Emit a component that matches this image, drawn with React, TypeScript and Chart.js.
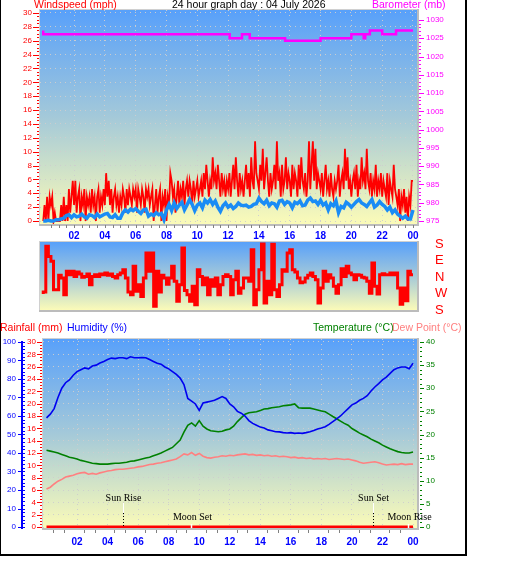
import React, { useEffect, useRef } from "react";
import { Chart, registerables } from "chart.js";

Chart.register(...registerables);

const FONT = "'Liberation Sans', Arial, sans-serif";
const GRID = "rgba(206,206,206,0.95)";

// ---- time axis (hours of the day) ----
const HOUR_TICKS = [2, 4, 6, 8, 10, 12, 14, 16, 18, 20, 22, 24];

// ---- wind speed (mph): 5-minute gusts, 10-minute average ----
const windGust = [
  0, 2.3, 0, 3.5, 0, 3.5, 2.3, 3.5, 0, 1.2, 0, 0,
  0, 0, 2.3, 0, 3.5, 0, 2.3, 0, 4.6, 1.2, 3.5, 5.8,
  2.3, 5.8, 1.2, 3.5, 4.6, 0, 3.5, 2.3, 4.6, 0, 3.5, 2.3,
  3.5, 1.2, 4.6, 2.3, 3.5, 0, 3.5, 4.6, 1.2, 3.5, 2.3, 4.6,
  2.3, 6.9, 3.5, 5.8, 2.3, 4.6, 1.2, 3.5, 4.6, 2.3, 3.5, 1.2,
  3.5, 2.3, 4.6, 3.5, 1.2, 4.6, 2.3, 4.6, 3.5, 2.3, 4.6, 3.5,
  4.6, 1.2, 4.6, 3.5, 2.3, 4.6, 3.5, 1.2, 4.6, 3.5, 4.6, 2.3,
  3.5, 4.6, 0, 2.3, 4.6, 1.2, 3.5, 4.6, 0, 3.5, 2.3, 4.6,
  0, 3.5, 2.3, 6.9, 5.8, 3.5, 4.6, 1.2, 3.5, 5.8, 2.3, 4.6,
  3.5, 5.8, 2.3, 4.6, 5.8, 3.5, 5.8, 4.6, 2.3, 5.8, 3.5, 4.6,
  5.8, 3.5, 4.6, 5.8, 3.5, 6.9, 4.6, 8.1, 5.8, 3.5, 5.8, 4.6,
  9.2, 5.8, 6.9, 4.6, 8.1, 5.8, 3.5, 6.9, 4.6, 5.8, 3.5, 5.8,
  4.6, 6.9, 3.5, 5.8, 8.1, 4.6, 9.2, 5.8, 3.5, 6.9, 4.6, 5.8,
  3.5, 5.8, 8.1, 4.6, 6.9, 3.5, 9.2, 5.8, 4.6, 11.5, 6.9, 5.8,
  4.6, 8.1, 5.8, 10.4, 4.6, 6.9, 9.2, 5.8, 3.5, 6.9, 4.6, 5.8,
  8.1, 4.6, 11.5, 5.8, 6.9, 3.5, 8.1, 4.6, 5.8, 9.2, 4.6, 6.9,
  5.8, 3.5, 8.1, 4.6, 6.9, 5.8, 3.5, 8.1, 4.6, 9.2, 5.8, 4.6,
  6.9, 3.5, 5.8, 11.5, 4.6, 8.1, 11.5, 5.8, 10.4, 4.6, 6.9, 5.8,
  4.6, 6.9, 3.5, 5.8, 8.1, 4.6, 5.8, 3.5, 6.9, 4.6, 3.5, 5.8,
  4.6, 5.8, 8.1, 3.5, 5.8, 6.9, 4.6, 10.4, 5.8, 9.2, 4.6, 5.8,
  3.5, 5.8, 6.9, 4.6, 8.1, 3.5, 5.8, 4.6, 9.2, 5.8, 6.9, 4.6,
  10.4, 5.8, 4.6, 6.9, 3.5, 5.8, 4.6, 8.1, 3.5, 5.8, 4.6, 6.9,
  3.5, 5.8, 4.6, 3.5, 6.9, 2.3, 5.8, 4.6, 3.5, 8.1, 4.6, 3.5,
  2.3, 4.6, 0, 3.5, 2.3, 4.6, 1.2, 3.5, 0, 3.5, 2.3, 5.8,
  5.8,
];

const windAverage = [
  0, 0, 0.1, 0, 0, 0.2,
  0.2, 0.3, 0.4, 0.8, 0.9, 0.5,
  0.9, 0.6, 0.7, 1.0, 0.6, 0.4,
  0.9, 0.8, 0.5, 1.0, 0.6, 0.8,
  1.0, 1.1, 0.6, 0.5, 0.9, 0.4,
  0.4, 1.2, 1.6, 1.3, 1.7, 1.5,
  1.8, 1.4, 1.1, 1.6, 1.7, 0.7,
  1.0, 0.8, 1.2, 0.9, 1.1, 0.2,
  1.6, 2.4, 1.5, 2.6, 1.8, 2.3,
  2.7, 1.6, 2.3, 3.1, 2.4, 1.5,
  2.3, 2.6, 1.9, 3.0, 2.6, 3.1,
  2.4, 2.9, 2.0, 1.4, 2.2, 2.6,
  2.0, 2.3, 1.8, 2.1, 2.6, 2.3,
  2.2, 2.3, 2.0, 2.1, 2.4, 2.5,
  3.3, 2.8, 2.5, 3.0, 2.2, 2.6,
  2.5, 2.0, 2.9, 3.0, 2.4, 2.8,
  2.6, 1.9, 2.7, 2.5, 2.9, 2.2,
  2.3, 3.0, 3.3, 2.8, 2.9, 2.4,
  3.0, 2.3, 2.6, 1.6, 2.5, 2.2,
  2.9, 1.2, 2.1, 1.9, 2.7, 2.4,
  2.0, 2.4, 2.8, 3.1, 2.6, 2.4,
  2.1, 2.6, 3.1, 2.0, 2.3, 2.8,
  2.4, 2.1, 1.6, 2.0, 1.2, 1.6,
  1.0, 0.7, 0.4, 0.7, 0.3, 0.3,
  1.6,
];

// ---- barometer (mb): hour of each change and the new reading ----
const baroHours = [0, 12.1, 12.9, 13.4, 15.7, 18.0, 20.0, 20.8, 20.9, 21.2, 22.0, 22.9, 23.3, 24];
const baroValues = [1027.1, 1026.1, 1025.0, 1026.1, 1025.0, 1024.3, 1025.0, 1026.1, 1025.0, 1026.1, 1027.1, 1026.1, 1027.1, 1027.1];

// ---- wind direction (degrees, north = 0, east positive), 10-minute samples ----
const windDirection = [
  -93, -82, 168, 112, 86, -69, -69, 9, -6, -97,
  31, 12, 31, 3, 27, 17, -2, 3, 17, -42,
  3, 12, 3, 17, 12, 22, 9, 17, 3, -6,
  12, 22, 40, -6, -82, -97, 58, -78, -42, -106,
  -6, 131, 31, 131, -160, 31, -82, 9, -6, -39,
  -6, 58, -23, -132, -42, 158, -74, -97, -132, -51,
  -151, 40, 3, -42, -6, -97, -15, -51, -6, -97,
  -42, 3, 12, 3, -97, -15, 31, -88, -60, -6,
  -6, -23, 149, -151, -69, 40, 180, -142, -23, -97,
  178, -69, -106, -42, 40, 31, 131, 149, 40, 27,
  -6, -32, -27, -6, 9, 22, 3, -15, -142, -60,
  31, -23, 12, -6, -51, -88, -42, 45, 3, 58,
  22, 12, -15, 12, 9, -2, -6, -23, -88, 76,
  -51, -93, 12, 18, 12, 12, 22, 12, 22, -60,
  -148, -60, -129, 31, 12,
];
const DIR_TICKS = [180, 90, 0, -90, -180];
const DIR_NAMES = ["S", "E", "N", "W", "S"];

// ---- humidity (%), temperature and dew point (°C), 15-minute samples ----
const humidity = [
  59, 61, 64, 70, 75, 78, 79.5, 82, 84, 85,
  86, 85.5, 87, 87.5, 88.6, 89.5, 90.5, 91.3, 91, 91.5,
  91.5, 91, 92, 91.5, 91.5, 91.6, 91.5, 90.5, 89.5, 88.5,
  88, 86.5, 85.5, 84, 82.5, 80.5, 77, 69.5, 68, 66.5,
  63, 67, 67.5, 68, 68.5, 69.5, 70.5, 69.5, 66.5, 65,
  62.5, 61.5, 60, 57.5, 56, 55, 54, 53.5, 52.5, 52,
  51.5, 51.4, 51, 50.8, 51, 50.6, 50.8, 50.6, 51, 51.5,
  52.2, 53, 53.5, 54.2, 55.5, 57, 58.5, 60, 62, 64,
  66, 67, 68.5, 69.5, 71, 73.5, 75.7, 77.5, 79.5, 81,
  83, 85, 86, 86.5, 86.5, 85.5, 88.5,
];

const temperature = [
  16.6, 16.4, 16.2, 16.0, 15.7, 15.4, 15.1, 14.9, 14.7, 14.4,
  14.2, 14.0, 13.8, 13.7, 13.6, 13.6, 13.6, 13.7, 13.8, 13.8,
  13.9, 14.0, 14.2, 14.3, 14.5, 14.7, 14.9, 15.1, 15.4, 15.7,
  16.0, 16.4, 16.8, 17.2, 18.0, 18.8, 20.5, 22.0, 22.5, 21.8,
  23.0, 21.8, 21.2, 20.8, 20.7, 20.6, 20.7, 21.0, 21.2, 21.8,
  22.8, 23.6, 24.4, 24.7, 24.8, 24.9, 25.2, 25.5, 25.6, 25.8,
  25.9, 26.0, 26.2, 26.3, 26.4, 26.6, 25.8, 25.7, 25.7, 25.7,
  25.5, 25.3, 25.1, 24.9, 24.4, 23.9, 23.4, 22.9, 22.4, 22.0,
  21.3, 20.8, 20.3, 19.9, 19.5, 19.0, 18.6, 18.2, 17.7, 17.3,
  16.9, 16.6, 16.3, 16.1, 16.0, 16.0, 16.2,
];

const dewPoint = [
  8.2, 8.6, 9.3, 9.9, 10.3, 10.8, 11.0, 11.2, 11.5, 11.7,
  11.8, 11.4, 11.6, 11.4, 11.7, 11.9, 12.1, 12.2, 12.4, 12.5,
  12.5, 12.6, 12.7, 12.8, 13.0, 13.1, 13.3, 13.5, 13.6, 13.8,
  13.9, 14.1, 14.3, 14.5, 14.7, 15.2, 15.8, 15.6, 16.1, 15.5,
  15.9, 15.3, 15.0, 14.9, 15.1, 15.2, 15.4, 15.3, 15.5, 15.4,
  15.6, 15.7, 15.8, 15.6, 15.7, 15.5, 15.6, 15.4, 15.5, 15.3,
  15.4, 15.2, 15.3, 15.2, 15.0, 15.1, 14.9, 15.0, 14.8, 14.9,
  14.7, 14.8, 14.7, 14.8, 14.6, 14.7, 14.8, 14.7, 14.6, 14.7,
  14.5, 14.3, 14.0, 13.8, 13.9, 14.0, 14.1, 13.9, 13.6, 13.4,
  13.5, 13.6, 13.5, 13.7, 13.5, 13.6, 13.6,
];

// ---- rainfall (mm) ----
const rainHours = [0, 24];
const rainValues = [0, 0];

// ---- axis tick values ----
const WIND_TICKS = [0, 2, 4, 6, 8, 10, 12, 14, 16, 18, 20, 22, 24, 26, 28, 30];
const BARO_TICKS = [975, 980, 985, 990, 995, 1000, 1005, 1010, 1015, 1020, 1025, 1030];
const HUM_TICKS = [0, 10, 20, 30, 40, 50, 60, 70, 80, 90, 100];
const RAIN_TICKS = [0, 2, 4, 6, 8, 10, 12, 14, 16, 18, 20, 22, 24, 26, 28, 30];
const TEMP_TICKS = [0, 5, 10, 15, 20, 25, 30, 35, 40];

// ---- sun and moon events (hour of day) ----
const skyEvents = [
  { name: "Sun Rise", hour: 5.0, sun: true },
  { name: "Moon Set", hour: 9.46, sun: false },
  { name: "Sun Set", hour: 21.38, sun: true },
  { name: "Moon Rise", hour: 23.7, sun: false },
];

function timeSeries(values: number[]) {
  const step = 24 / (values.length - 1);
  return values.map((v, i) => ({ x: i * step, y: v }));
}

function pairs(xs: number[], ys: number[]) {
  return xs.map((x, i) => ({ x, y: ys[i] }));
}

function fixedTicks(values: number[]) {
  return (scale: any) => {
    scale.ticks = values.map((v) => ({ value: v }));
  };
}

function hourLabel(v: number) {
  return v === 24 ? "00" : String(v).padStart(2, "0");
}

type MarkSpec = {
  axis: string;
  from: number;
  to: number;
  step: number;
  every: number;
  x: number;
  side: number;
  major: number;
  minor: number;
  color: string;
};

type XMarkSpec = { values: number[]; y: number; len: number; color: string };

function paintBackground(chart: any) {
  const { ctx, chartArea: a } = chart;
  const g = ctx.createLinearGradient(0, a.top, 0, a.bottom);
  g.addColorStop(0, "#58a0fa");
  g.addColorStop(0.5, "#a4c9d9");
  g.addColorStop(1, "#fbfbb8");
  ctx.save();
  ctx.fillStyle = g;
  ctx.fillRect(a.left, a.top, a.right - a.left, a.bottom - a.top);
  ctx.restore();
}

function paintFrame(chart: any) {
  const { ctx, chartArea: a } = chart;
  ctx.save();
  ctx.fillStyle = "#d0d0d0";
  ctx.fillRect(a.left - 1, a.top - 1, a.right - a.left + 1, 1);
  ctx.fillRect(a.left - 1, a.top - 1, 1, a.bottom - a.top + 1);
  ctx.fillStyle = "#bcbcbc";
  ctx.fillRect(a.right, a.top - 1, 2, a.bottom - a.top + 3);
  ctx.fillRect(a.left - 1, a.bottom, a.right - a.left + 3, 2);
  ctx.restore();
}

function paintMarks(chart: any, specs: MarkSpec[], xMarks?: XMarkSpec) {
  const ctx = chart.ctx;
  ctx.save();
  ctx.lineWidth = 1;
  for (const m of specs) {
    const scale = chart.scales[m.axis];
    ctx.strokeStyle = m.color;
    ctx.beginPath();
    const n = Math.round((m.to - m.from) / m.step);
    for (let k = 0; k <= n; k++) {
      const v = m.from + k * m.step;
      const r = v / m.every;
      const len = Math.abs(r - Math.round(r)) < 1e-6 ? m.major : m.minor;
      if (!len) continue;
      const y = Math.round(scale.getPixelForValue(v)) + 0.5;
      ctx.moveTo(m.x, y);
      ctx.lineTo(m.x + m.side * len, y);
    }
    ctx.stroke();
  }
  if (xMarks) {
    const sx = chart.scales.x;
    ctx.strokeStyle = xMarks.color;
    ctx.beginPath();
    for (const v of xMarks.values) {
      const x = Math.round(sx.getPixelForValue(v)) + 0.5;
      ctx.moveTo(x, xMarks.y);
      ctx.lineTo(x, xMarks.y + xMarks.len);
    }
    ctx.stroke();
  }
  ctx.restore();
}

const halfHours: number[] = [];
for (let k = 1; k <= 48; k++) halfHours.push(k * 0.5);
const lowerTickHours: number[] = [];
for (let k = 0; k < 12; k++) lowerTickHours.push(2 * k + 0.45, 2 * k + 1.15);

function xAxis(min: number, max: number, height: number, padding: number, show = true) {
  return {
    type: "linear",
    display: show,
    min,
    max,
    afterBuildTicks: fixedTicks(HOUR_TICKS),
    afterFit: (s: any) => {
      s.height = height;
      s.paddingLeft = 0;
      s.paddingRight = 0;
    },
    ticks: {
      callback: (v: number) => hourLabel(v),
      color: "#0000ff",
      font: { family: FONT, size: 10, weight: "bold" },
      padding,
      maxRotation: 0,
      autoSkip: false,
    },
    grid: { color: GRID, drawTicks: false },
    border: { display: false, dash: [1, 4] },
  };
}

function yAxis(opts: {
  position: string;
  min: number;
  max: number;
  ticks: number[];
  color: string;
  width: number;
  padding: number;
  grid?: boolean;
  weight?: number;
  size?: number;
  callback?: (v: number) => string;
}) {
  return {
    type: "linear",
    position: opts.position,
    weight: opts.weight ?? 0,
    min: opts.min,
    max: opts.max,
    afterBuildTicks: fixedTicks(opts.ticks),
    afterFit: (s: any) => {
      s.width = opts.width;
      s.paddingTop = 0;
      s.paddingBottom = 0;
    },
    ticks: {
      color: opts.color,
      font: { family: FONT, size: opts.size ?? 8 },
      padding: opts.padding,
      autoSkip: false,
      callback: opts.callback ?? ((v: number) => String(v)),
    },
    grid: { display: !!opts.grid, color: GRID, drawTicks: false },
    border: { display: false, dash: [1, 4] },
  };
}

const common = {
  responsive: false,
  animation: false,
  events: [],
  plugins: { legend: { display: false }, tooltip: { enabled: false } },
};

function windChart(canvas: HTMLCanvasElement) {
  const marks: MarkSpec[] = [
    { axis: "y", from: 0, to: 30, step: 0.5, every: 2, x: 39, side: -1, major: 6, minor: 2, color: "#ff0000" },
    { axis: "yBaro", from: 975, to: 1030, step: 1, every: 5, x: 419, side: 1, major: 5, minor: 2, color: "#ff00ff" },
  ];
  return new Chart(canvas, {
    type: "line",
    data: {
      datasets: [
        {
          data: timeSeries(windAverage),
          yAxisID: "y",
          borderColor: "#1a8cf5",
          borderWidth: 3.5,
          pointRadius: 0,
        },
        {
          data: timeSeries(windGust),
          yAxisID: "y",
          borderColor: "#ff0000",
          borderWidth: 1.8,
          pointRadius: 0,
        },
        {
          data: pairs(baroHours, baroValues),
          yAxisID: "yBaro",
          borderColor: "#ff00ff",
          borderWidth: 2.5,
          pointRadius: 0,
          stepped: "after",
        },
      ],
    },
    options: {
      ...common,
      layout: { padding: { top: 10, left: 0, right: 0, bottom: 0 } },
      scales: {
        x: xAxis(-0.21, 24.26, 16, 6),
        y: yAxis({ position: "left", min: -0.43, max: 30.43, ticks: WIND_TICKS, color: "#ff0000", width: 40, padding: 8, grid: true }),
        yBaro: yAxis({ position: "right", min: 974.18, max: 1032.74, ticks: BARO_TICKS, color: "#ff00ff", width: 49, padding: 9 }),
      },
    } as any,
    plugins: [
      {
        id: "windDecor",
        beforeDraw: paintBackground,
        afterDraw: (chart: any) => {
          paintFrame(chart);
          paintMarks(chart, marks, { values: halfHours, y: chart.chartArea.bottom + 1, len: 3, color: "#808080" });
        },
      },
    ],
  });
}

function directionChart(canvas: HTMLCanvasElement) {
  return new Chart(canvas, {
    type: "line",
    data: {
      datasets: [
        {
          data: timeSeries(windDirection),
          yAxisID: "yDir",
          borderColor: "#ff0000",
          borderWidth: 3,
          pointRadius: 0,
          stepped: "after",
        },
      ],
    },
    options: {
      ...common,
      layout: { padding: { top: 6, left: 40, right: 0, bottom: 8 } },
      scales: {
        x: xAxis(-0.21, 24.26, 0, 0, false),
        yDir: yAxis({
          position: "right",
          min: -180,
          max: 190.9,
          ticks: DIR_TICKS,
          color: "#ff0000",
          width: 49,
          padding: 18,
          size: 13,
          callback: (v: number) => DIR_NAMES[DIR_TICKS.indexOf(v)] ?? "",
        }),
      },
    } as any,
    plugins: [{ id: "dirDecor", beforeDraw: paintBackground, afterDraw: paintFrame }],
  });
}

function climateChart(canvas: HTMLCanvasElement) {
  const marks: MarkSpec[] = [
    { axis: "yHum", from: 0, to: 100, step: 10, every: 10, x: 21, side: -1, major: 3, minor: 0, color: "#0000ff" },
    { axis: "yHum", from: 0, to: 100, step: 2, every: 10, x: 23, side: 1, major: 2, minor: 2, color: "#0000ff" },
    { axis: "yRain", from: 0, to: 30, step: 0.5, every: 2, x: 42, side: -1, major: 5, minor: 2, color: "#ff0000" },
    { axis: "yTemp", from: 0, to: 40, step: 1, every: 5, x: 420, side: 1, major: 4, minor: 2, color: "#008000" },
  ];
  return new Chart(canvas, {
    type: "line",
    data: {
      datasets: [
        { data: timeSeries(humidity), yAxisID: "yHum", borderColor: "#0000f0", borderWidth: 1.6, pointRadius: 0 },
        { data: timeSeries(temperature), yAxisID: "yTemp", borderColor: "#008000", borderWidth: 1.6, pointRadius: 0 },
        { data: timeSeries(dewPoint), yAxisID: "yTemp", borderColor: "#ff8080", borderWidth: 1.6, pointRadius: 0 },
        { data: pairs(rainHours, rainValues), yAxisID: "yRain", borderColor: "#ff0000", borderWidth: 3, pointRadius: 0 },
      ],
    },
    options: {
      ...common,
      layout: { padding: { top: 23, left: 0, right: 0, bottom: 0 } },
      scales: {
        x: xAxis(-0.23, 24.26, 25, 8),
        yRain: yAxis({ position: "left", weight: 1, min: -0.162, max: 30.486, ticks: RAIN_TICKS, color: "#ff0000", width: 18, padding: 7, grid: true }),
        yHum: yAxis({ position: "left", weight: 2, min: -0.54, max: 101.62, ticks: HUM_TICKS, color: "#0000ff", width: 25, padding: 9 }),
        yTemp: yAxis({ position: "right", min: -0.216, max: 40.649, ticks: TEMP_TICKS, color: "#008000", width: 49, padding: 9 }),
      },
    } as any,
    plugins: [
      {
        id: "climateDecor",
        beforeDraw: paintBackground,
        afterDraw: (chart: any) => {
          const { ctx, chartArea: a, scales } = chart;
          paintFrame(chart);
          paintMarks(chart, marks, { values: lowerTickHours, y: a.bottom + 2, len: 3, color: "#808080" });
          // humidity axis spine
          const yTop = scales.yHum.getPixelForValue(100);
          const yBottom = scales.yHum.getPixelForValue(0);
          ctx.save();
          ctx.fillStyle = "#0000ff";
          ctx.fillRect(21, Math.round(yTop) - 1, 2, Math.round(yBottom - yTop) + 3);
          // sun and moon events
          ctx.font = "10px 'Liberation Serif', 'DejaVu Serif', serif";
          ctx.textAlign = "center";
          ctx.textBaseline = "middle";
          for (const ev of skyEvents) {
            const x = Math.round(scales.x.getPixelForValue(ev.hour)) + 0.5;
            ctx.fillStyle = "#000";
            if (ev.sun) {
              ctx.fillText(ev.name, x, a.bottom - 30);
              ctx.strokeStyle = "#ffffff";
              ctx.lineWidth = 1;
              ctx.setLineDash([]);
              ctx.beginPath();
              ctx.moveTo(x, a.bottom - 25);
              ctx.lineTo(x, a.bottom - 15);
              ctx.stroke();
              ctx.strokeStyle = "#000";
              ctx.setLineDash([1, 2]);
              ctx.beginPath();
              ctx.moveTo(x, a.bottom - 15);
              ctx.lineTo(x, a.bottom);
              ctx.stroke();
              ctx.setLineDash([]);
            } else {
              ctx.fillText(ev.name, x + 1, a.bottom - 11);
              ctx.strokeStyle = "#ffffff";
              ctx.lineWidth = 1.5;
              ctx.beginPath();
              ctx.moveTo(x, a.bottom - 4);
              ctx.lineTo(x, a.bottom);
              ctx.stroke();
            }
          }
          ctx.restore();
        },
      },
    ],
  });
}

const header = (text: string, left: number, top: number, color: string) => (
  <div
    style={{
      position: "absolute",
      left,
      top,
      color,
      font: `10.5px ${FONT}`,
      lineHeight: "12px",
      whiteSpace: "nowrap",
    }}
  >
    {text}
  </div>
);

export default function App() {
  const windRef = useRef<HTMLCanvasElement>(null);
  const dirRef = useRef<HTMLCanvasElement>(null);
  const climateRef = useRef<HTMLCanvasElement>(null);

  useEffect(() => {
    const charts = [
      windChart(windRef.current!),
      directionChart(dirRef.current!),
      climateChart(climateRef.current!),
    ];
    return () => charts.forEach((c) => c.destroy());
  }, []);

  return (
    <div style={{ position: "absolute", left: 0, top: 0, width: 529, height: 563, background: "#fff", overflow: "hidden" }}>
      <div
        style={{
          position: "absolute",
          left: 0,
          top: -2,
          width: 464,
          height: 554,
          borderStyle: "solid",
          borderColor: "#000",
          borderWidth: "2px 2px 2px 1px",
        }}
      />
      <canvas ref={windRef} width={466} height={240} style={{ position: "absolute", left: 0, top: 0 }} />
      <canvas ref={dirRef} width={466} height={82} style={{ position: "absolute", left: 0, top: 236 }} />
      <canvas ref={climateRef} width={466} height={237} style={{ position: "absolute", left: 0, top: 316 }} />
      {header("Windspeed (mph)", 34, -2, "#ff0000")}
      {header("24 hour graph day : 04 July 2026", 172, -2, "#000000")}
      {header("Barometer (mb)", 372, -2, "#ff00ff")}
      {header("Rainfall (mm)", 0, 321, "#ff0000")}
      {header("Humidity (%)", 67, 321, "#0000ff")}
      {header("Temperature (°C)", 313, 321, "#008000")}
      {header("Dew Point (°C)", 392, 321, "#ff8080")}
    </div>
  );
}
